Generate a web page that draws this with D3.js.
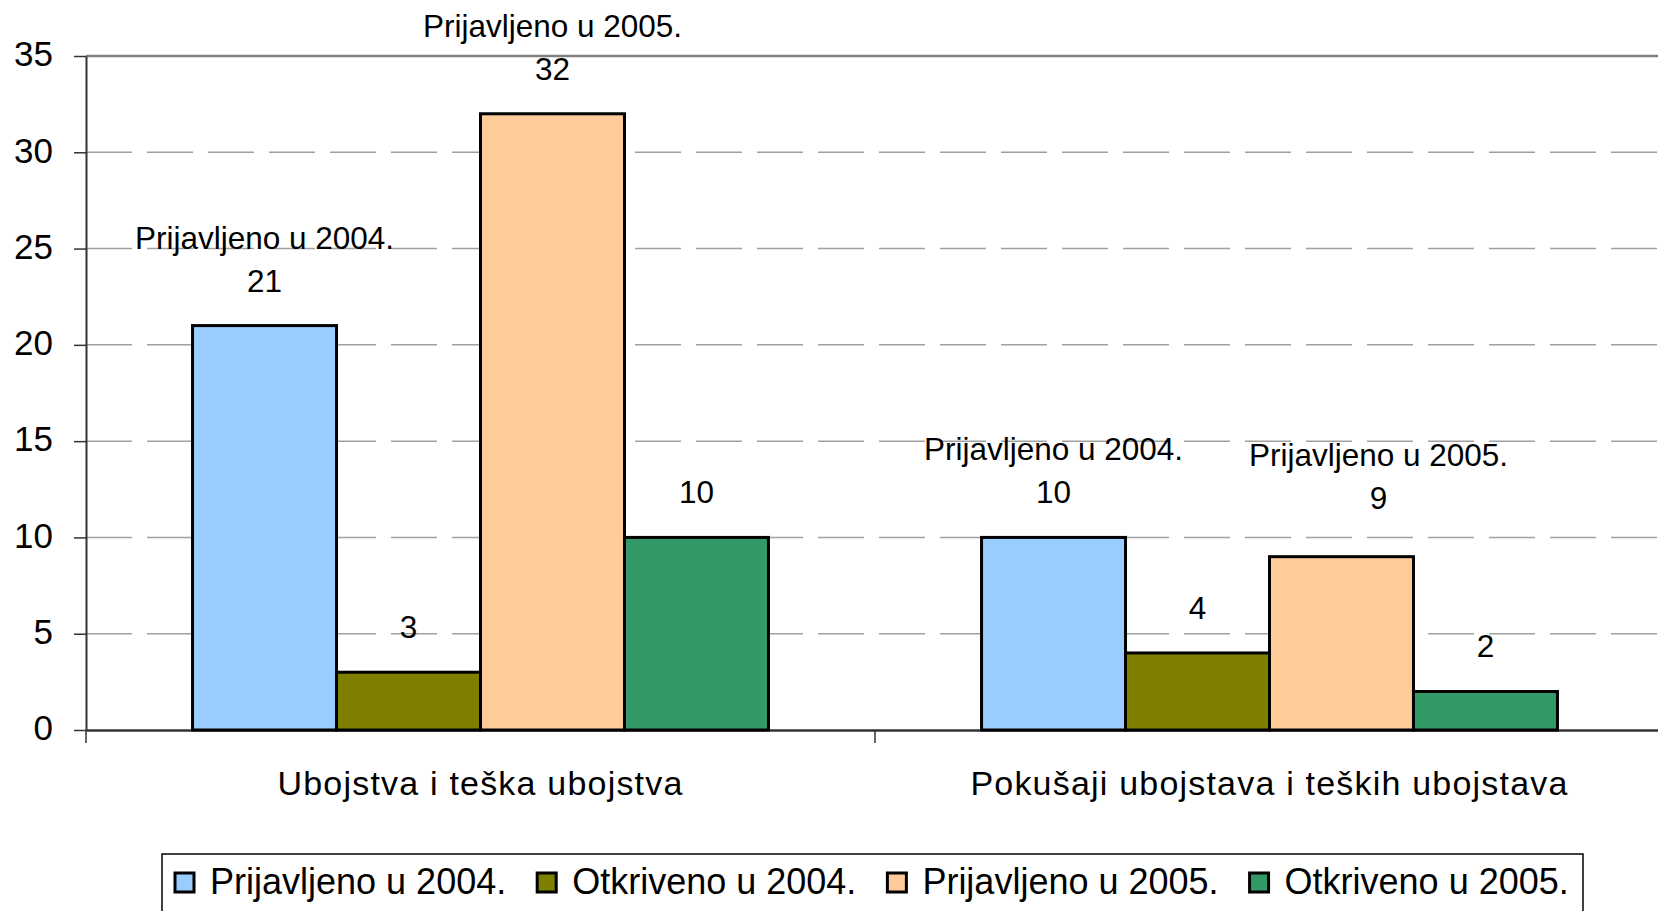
<!DOCTYPE html>
<html>
<head>
<meta charset="utf-8">
<script src="https://cdn.jsdelivr.net/npm/d3@7"></script>
<style>
  html, body { margin: 0; padding: 0; background: #fff; overflow: hidden; }
  svg { display: block; font-family: "Liberation Sans", Arial, sans-serif; }
</style>
</head>
<body>
<svg width="1658" height="911"></svg>
<script>
// data
const categories = ["Ubojstva i teška ubojstva", "Pokušaji ubojstava i teških ubojstava"];
const seriesNames = ["Prijavljeno u 2004.", "Otkriveno u 2004.", "Prijavljeno u 2005.", "Otkriveno u 2005."];
const prijavljeno2004 = [21, 10];
const otkriveno2004 = [3, 4];
const prijavljeno2005 = [32, 9];
const otkriveno2005 = [10, 2];
const yTicks = [0, 5, 10, 15, 20, 25, 30, 35];

const seriesValues = [prijavljeno2004, otkriveno2004, prijavljeno2005, otkriveno2005];
const seriesColors = ["#99CCFF", "#808000", "#FFCC99", "#339966"];
const showSeriesName = [true, false, true, false];

const svg = d3.select("svg");
const margin = { left: 86, top: 56, bottom: 730 };
const catWidth = 789;

const x0 = d3.scaleBand()
  .domain(categories)
  .range([margin.left, margin.left + catWidth * categories.length])
  .padding(0);

const x1 = d3.scaleBand()
  .domain(seriesNames)
  .range([0, x0.bandwidth()])
  .paddingInner(0)
  .paddingOuter(0.74);

const y = d3.scaleLinear()
  .domain([0, 35])
  .range([margin.bottom, margin.top]);

const right = x0.range()[1];

// gridlines
svg.append("g")
  .selectAll("line")
  .data(yTicks.filter(t => t > 0 && t < 35))
  .enter().append("line")
  .attr("x1", margin.left).attr("x2", right)
  .attr("y1", d => y(d)).attr("y2", d => y(d))
  .attr("stroke", "#a0a0a0")
  .attr("stroke-width", 1.5)
  .attr("stroke-dasharray", "46,15");

// top border of plot area
svg.append("line")
  .attr("x1", margin.left).attr("x2", right)
  .attr("y1", y(35)).attr("y2", y(35))
  .attr("stroke", "#808080")
  .attr("stroke-width", 2.5);

// y axis
const yAxis = svg.append("g")
  .attr("transform", `translate(${margin.left},0)`)
  .call(d3.axisLeft(y).tickValues(yTicks).tickSize(12).tickPadding(21).tickSizeOuter(0));
yAxis.select(".domain").attr("stroke", "#333").attr("stroke-width", 2);
yAxis.selectAll(".tick line").attr("stroke", "#333").attr("stroke-width", 1.5);
yAxis.selectAll(".tick text")
  .attr("font-size", 35)
  .attr("font-family", "'Liberation Sans', Arial, sans-serif")
  .attr("fill", "#000")
  .attr("dy", "0.28em");

// x axis
const xAxis = svg.append("g")
  .attr("transform", `translate(0,${margin.bottom})`)
  .call(d3.axisBottom(x0).tickSize(0).tickPadding(0).tickSizeOuter(0));
xAxis.select(".domain").attr("stroke", "#333").attr("stroke-width", 2.5);
xAxis.selectAll(".tick text")
  .attr("font-size", 34)
  .attr("letter-spacing", 1.2)
  .attr("font-family", "'Liberation Sans', Arial, sans-serif")
  .attr("fill", "#000")
  .attr("y", 65)
  .attr("dy", 0);

// category dividers
svg.append("g")
  .selectAll("line")
  .data(categories)
  .enter().append("line")
  .attr("x1", d => x0(d)).attr("x2", d => x0(d))
  .attr("y1", margin.bottom).attr("y2", margin.bottom + 13)
  .attr("stroke", "#333")
  .attr("stroke-width", 1.5);

// bars
const cells = [];
categories.forEach((c, ci) => {
  seriesNames.forEach((s, si) => {
    cells.push({ cat: c, series: s, si, value: seriesValues[si][ci] });
  });
});

svg.append("g")
  .selectAll("rect")
  .data(cells)
  .enter().append("rect")
  .attr("x", d => x0(d.cat) + x1(d.series))
  .attr("y", d => y(d.value))
  .attr("width", x1.bandwidth())
  .attr("height", d => y(0) - y(d.value))
  .attr("fill", d => seriesColors[d.si])
  .attr("stroke", "#000")
  .attr("stroke-width", 3);

// labels above bars (one label in the second group was moved up and right)
const moved = d => d.cat === categories[1] && d.si === 2;
const shiftX = d => moved(d) ? 37 : 0;
const lift = d => moved(d) ? 14 : 0;

const labels = svg.append("g")
  .attr("font-size", 31.5)
  .attr("text-anchor", "middle")
  .attr("fill", "#000")
  .selectAll("g")
  .data(cells)
  .enter().append("g")
  .attr("transform", d => `translate(${x0(d.cat) + x1(d.series) + x1.bandwidth() / 2 + shiftX(d)},${y(d.value) - 34 - lift(d)})`);

labels.append("text").text(d => d.value);
labels.filter(d => showSeriesName[d.si])
  .append("text")
  .attr("y", -43)
  .text(d => d.series);

// legend
const legend = svg.append("g");
legend.append("rect")
  .attr("x", 162).attr("y", 854)
  .attr("width", 1421).attr("height", 90)
  .attr("fill", "#fff")
  .attr("stroke", "#000")
  .attr("stroke-width", 1.5);

let lx = 175;
seriesNames.forEach((s, i) => {
  legend.append("rect")
    .attr("x", lx).attr("y", 873)
    .attr("width", 19).attr("height", 19)
    .attr("fill", seriesColors[i])
    .attr("stroke", "#000")
    .attr("stroke-width", 3);
  const t = legend.append("text")
    .attr("x", lx + 35).attr("y", 894)
    .attr("font-size", 36)
    .attr("fill", "#000")
    .text(s);
  lx += 35 + t.node().getComputedTextLength() + 31;
});
</script>
</body>
</html>
